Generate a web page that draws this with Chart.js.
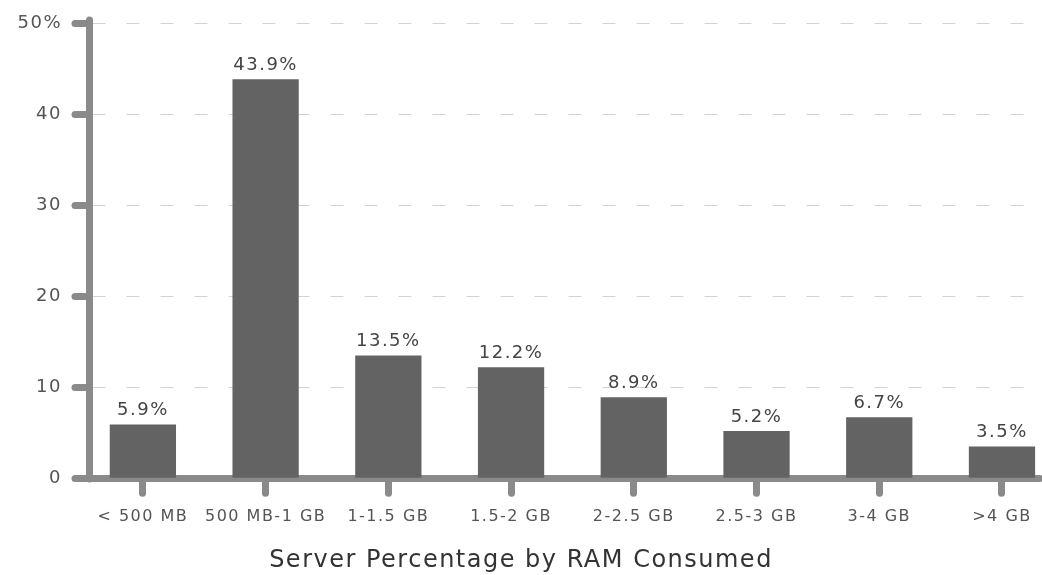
<!DOCTYPE html>
<html lang="en">
<head>
    <meta charset="UTF-8">
    <title>Server Percentage by RAM Consumed</title>
    <script src="https://cdn.jsdelivr.net/npm/chart.js"></script>
    <style>
        html, body { margin: 0; padding: 0; background: #fff; overflow: hidden; }
        #wrap { width: 1042px; height: 575px; }
    </style>
</head>
<body>
    <div id="wrap"><canvas id="graficoRam"></canvas></div>

    <script>
        // Datos
        const categorias = ['< 500 MB', '500 MB-1 GB', '1-1.5 GB', '1.5-2 GB', '2-2.5 GB', '2.5-3 GB', '3-4 GB', '>4 GB'];
        const porcentajes = [5.9, 43.9, 13.5, 12.2, 8.9, 5.2, 6.7, 3.5];
        const ticksY = [0, 10, 20, 30, 40, 50];
        const tituloX = 'Server Percentage by RAM Consumed';

        const gris = '#8a8a8a';
        const fuente = 'DejaVu Sans';

        // Etiquetas de valor sobre cada barra
        const etiquetasBarras = {
            id: 'etiquetasBarras',
            beforeDraw(chart) {
                chart.ctx.lineCap = 'round';
                chart.ctx.letterSpacing = '1.5px';
            },
            afterDatasetsDraw(chart) {
                const ctx = chart.ctx;
                const meta = chart.getDatasetMeta(0);
                ctx.save();
                ctx.font = '18px "' + fuente + '"';
                ctx.fillStyle = '#444';
                ctx.textAlign = 'center';
                ctx.textBaseline = 'bottom';
                meta.data.forEach((bar, i) => {
                    ctx.fillText(porcentajes[i].toFixed(1) + '%', bar.x, bar.y - 5);
                });
                ctx.restore();
            }
        };

        const ctx = document.getElementById('graficoRam').getContext('2d');
        new Chart(ctx, {
            type: 'bar',
            data: {
                datasets: [{
                    data: porcentajes.map((v, i) => ({ x: i, y: v })),
                    backgroundColor: '#636363',
                    borderWidth: 0,
                    barPercentage: 0.9,
                    categoryPercentage: 0.6
                }]
            },
            options: {
                responsive: true,
                maintainAspectRatio: false,
                animation: false,
                layout: { padding: { top: 18, right: 0, left: 0, bottom: 0 } },
                plugins: {
                    legend: { display: false },
                    tooltip: { enabled: false },
                    title: {
                        display: true,
                        position: 'bottom',
                        text: tituloX,
                        color: '#333',
                        font: { family: fuente, size: 24, weight: 'normal' },
                        padding: 0
                    }
                },
                scales: {
                    x: {
                        type: 'linear',
                        position: 'bottom',
                        offset: false,
                        min: -0.439,
                        max: 7.309,
                        afterFit: (s) => { s.height = 68; },
                        afterBuildTicks: (s) => {
                            s.ticks = categorias.map((c, i) => ({ value: i }));
                        },
                        ticks: {
                            autoSkip: false,
                            maxRotation: 0,
                            padding: 14,
                            color: '#555',
                            font: { family: fuente, size: 16 },
                            callback: (v) => categorias[v] ?? ''
                        },
                        grid: {
                            offset: false,
                            drawOnChartArea: false,
                            tickLength: 15,
                            tickWidth: 7,
                            tickColor: gris,
                            tickBorderDash: []
                        },
                        border: { color: gris, width: 7 }
                    },
                    y: {
                        min: 0,
                        max: 50,
                        afterFit: (s) => { s.width = 89; },
                        afterBuildTicks: (s) => {
                            s.ticks = ticksY.map(v => ({ value: v }));
                        },
                        ticks: {
                            padding: 13,
                            color: '#555',
                            font: { family: fuente, size: 18 },
                            callback: (v) => v === 50 ? v + '%' : v
                        },
                        grid: {
                            color: '#d2d2d2',
                            lineWidth: 1,
                            tickLength: 14,
                            tickWidth: 7,
                            tickColor: gris,
                            tickBorderDash: []
                        },
                        border: { color: gris, width: 7, dash: [12, 22] }
                    }
                }
            },
            plugins: [etiquetasBarras]
        });
    </script>
</body>
</html>
